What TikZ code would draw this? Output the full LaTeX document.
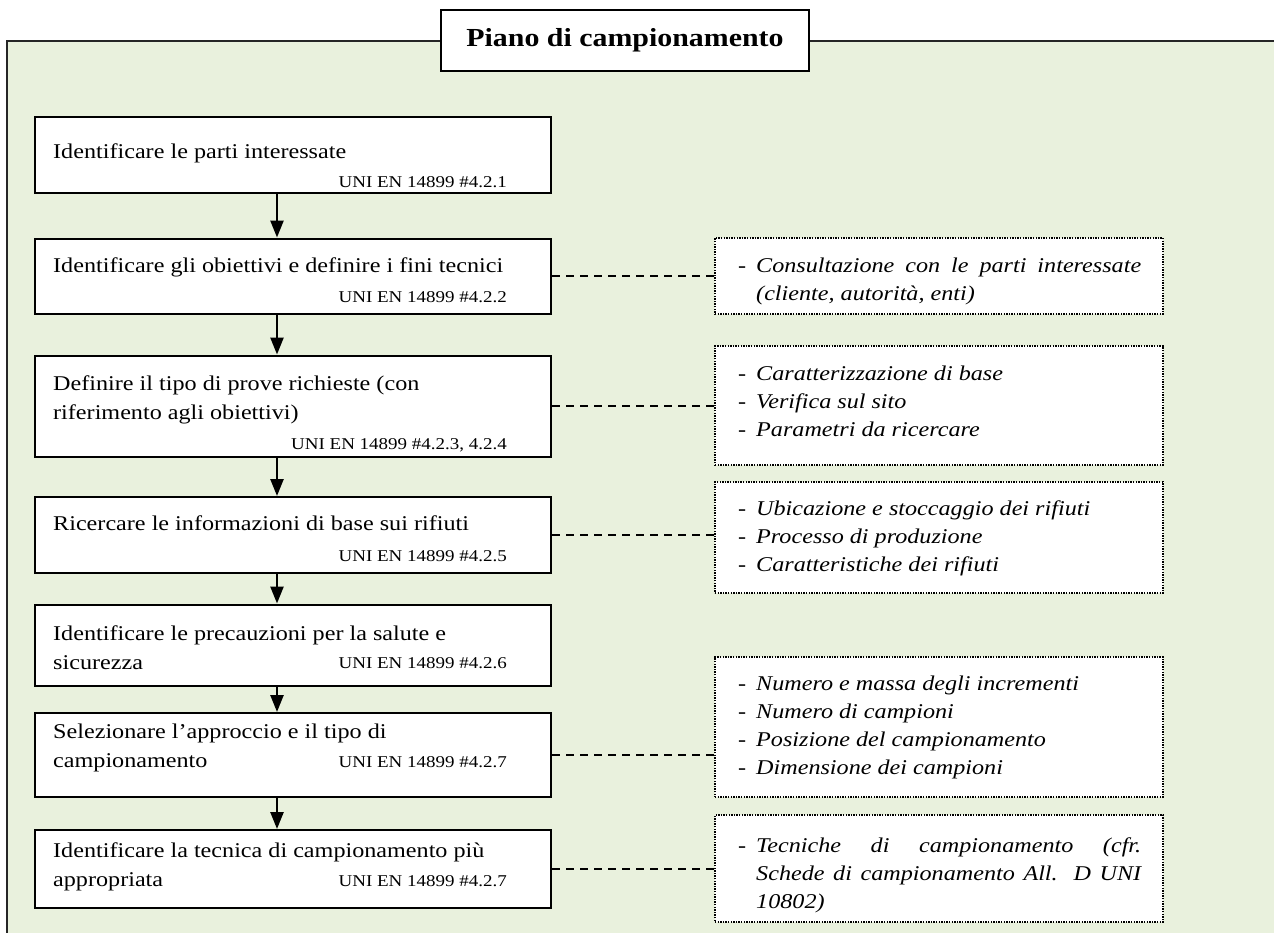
\documentclass[tikz,border=0pt]{standalone}
\usepackage{fontspec}
\setmainfont{Liberation Serif}[FakeStretch=1.15]
\usetikzlibrary{arrows.meta}
\definecolor{panelgreen}{RGB}{233,241,221}
\newcommand\maintxt{\fontsize{21}{29.5}\selectfont}
\newcommand\reftxt{\fontsize{16.5}{20}\selectfont}
\newcommand\notetxt{\fontsize{21}{28}\selectfont\itshape}
\newcommand\titletxt{\fontsize{26}{30}\selectfont\bfseries}
% one bullet line of a note, with the text hanging after the dash
\newcommand\bul[1]{\hangindent=18pt\hangafter=1\makebox[18pt][l]{-}#1\par}
\begin{document}
\begin{tikzpicture}[x=1pt,y=-1pt,
  panel/.style={draw=black!85, line width=1.7pt, fill=panelgreen},
  titlebox/.style={draw=black, line width=2pt, fill=white, inner sep=0pt,
    minimum width=368pt, minimum height=61pt, font=\titletxt},
  stepbox/.style={draw=black, line width=2pt, fill=white, inner sep=0pt,
    minimum width=516pt},
  notebox/.style={draw=black, line width=1.5pt, dash pattern=on 1.4pt off 1.2pt,
    fill=white, inner sep=0pt, minimum width=448pt},
  flow/.style={line width=2.5pt, -{Triangle[length=17pt,width=13pt]}},
  link/.style={line width=1.8pt, dash pattern=on 8pt off 6pt},
  maintext/.style={inner sep=0pt, anchor=base west, font=\maintxt},
  reftext/.style={inner sep=0pt, anchor=base east, font=\reftxt},
  notetext/.style={inner sep=0pt, anchor=base west, font=\notetxt},
]
\useasboundingbox (0,0) rectangle (1274,932);
\clip (0,0) rectangle (1274,932);

% background panel, running off the right and bottom edges
\path[panel] (7,41) rectangle (1300,960);
\node[titlebox] (title) at (625,40.5) {Piano di campionamento};

% steps of the plan
\node[stepbox, minimum height=76pt]  (b1) at (293,155) {};
\node[stepbox, minimum height=75pt]  (b2) at (293,276) {};
\node[stepbox, minimum height=101pt] (b3) at (293,406) {};
\node[stepbox, minimum height=76pt]  (b4) at (293,535) {};
\node[stepbox, minimum height=81pt]  (b5) at (293,645) {};
\node[stepbox, minimum height=84pt]  (b6) at (293,755) {};
\node[stepbox, minimum height=78pt]  (b7) at (293,869) {};

% notes
\node[notebox, minimum height=76pt]  (r1) at (939,276)   {};
\node[notebox, minimum height=119pt] (r2) at (939,405.5) {};
\node[notebox, minimum height=111pt] (r3) at (939,537.5) {};
\node[notebox, minimum height=140pt] (r4) at (939,727)   {};
\node[notebox, minimum height=107pt] (r5) at (939,868.5) {};

% step texts
\node[maintext] (t1) at (53,158) {Identificare le parti interessate};
\node[reftext]  (u1) at (507,187) {UNI EN 14899 \#4.2.1};
\node[maintext] (t2) at (53,272) {Identificare gli obiettivi e definire i fini tecnici};
\node[reftext]  (u2) at (507,302) {UNI EN 14899 \#4.2.2};
\node[maintext] (t3) at (53,390) {\parbox[t]{440pt}{Definire il tipo di prove richieste (con\\riferimento agli obiettivi)}};
\node[reftext]  (u3) at (507,449) {UNI EN 14899 \#4.2.3, 4.2.4};
\node[maintext] (t4) at (53,530) {Ricercare le informazioni di base sui rifiuti};
\node[reftext]  (u4) at (507,561) {UNI EN 14899 \#4.2.5};
\node[maintext] (t5) at (53,640) {\parbox[t]{440pt}{Identificare le precauzioni per la salute e\\sicurezza}};
\node[reftext]  (u5) at (507,668.5) {UNI EN 14899 \#4.2.6};
\node[maintext] (t6) at (53,738) {\parbox[t]{440pt}{Selezionare l’approccio e il tipo di\\campionamento}};
\node[reftext]  (u6) at (507,767.5) {UNI EN 14899 \#4.2.7};
\node[maintext] (t7) at (53,857) {\parbox[t]{440pt}{Identificare la tecnica di campionamento più\\appropriata}};
\node[reftext]  (u7) at (507,886.5) {UNI EN 14899 \#4.2.7};

% note texts
\node[notetext] (n1) at (738,272) {\parbox[t]{403pt}{\hyphenpenalty=10000\tolerance=9999
  \bul{Consultazione con le parti interessate\linebreak (cliente, autorità, enti)}}};
\node[notetext] (n2) at (738,380) {\parbox[t]{403pt}{%
  \bul{Caratterizzazione di base}\bul{Verifica sul sito}\bul{Parametri da ricercare}}};
\node[notetext] (n3) at (738,515) {\parbox[t]{403pt}{%
  \bul{Ubicazione e stoccaggio dei rifiuti}\bul{Processo di produzione}\bul{Caratteristiche dei rifiuti}}};
\node[notetext] (n4) at (738,690) {\parbox[t]{403pt}{%
  \bul{Numero e massa degli incrementi}\bul{Numero di campioni}\bul{Posizione del campionamento}\bul{Dimensione dei campioni}}};
\node[notetext] (n5) at (738,852) {\parbox[t]{403pt}{\hyphenpenalty=10000\tolerance=9999
  \bul{Tecniche di campionamento (cfr.\linebreak Schede di campionamento All. D UNI\linebreak 10802)}}};

% flow arrows
\foreach \a/\b in {b1/b2,b2/b3,b3/b4,b4/b5,b5/b6,b6/b7}
  \draw[flow] ([xshift=-16pt]\a.south) -- ([xshift=-16pt]\b.north);

% links from steps to notes
\foreach \a/\b in {b2/r1,b3/r2,b4/r3,b6/r4,b7/r5}
  \draw[link] (\a.east) -- (\a.east -| \b.west);
\end{tikzpicture}
\end{document}
